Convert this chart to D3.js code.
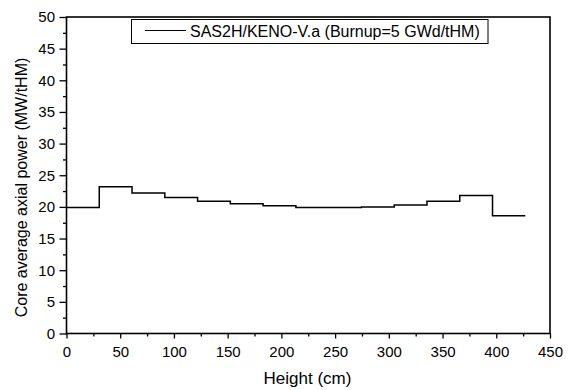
<!DOCTYPE html>
<html><head><meta charset="utf-8">
<script src="https://cdn.jsdelivr.net/npm/d3@7"></script>
<style>body{margin:0;background:#fff}text{font-family:"Liberation Sans",Arial,sans-serif;fill:#000}</style>
</head><body><svg id="c" width="568" height="390"></svg>
<script>
const binEdges = [0, 30.5, 61, 91.5, 122, 152.5, 183, 213.5, 244, 274.5, 305, 335.5, 366, 396.5, 427];
const power = [19.9, 23.2, 22.2, 21.5, 20.9, 20.5, 20.2, 19.9, 19.9, 20.0, 20.3, 20.9, 21.8, 18.6];
const xTicks = [0, 50, 100, 150, 200, 250, 300, 350, 400, 450];
const yTicks = [0, 5, 10, 15, 20, 25, 30, 35, 40, 45, 50];
const legendLabel = "SAS2H/KENO-V.a (Burnup=5 GWd/tHM)";

const svg = d3.select("#c");
const L = 66.5, R = 550, T = 17, B = 333.5;
const x = d3.scaleLinear().domain([0, 450]).range([L, R]);
const y = d3.scaleLinear().domain([0, 50]).range([B, T]);

const xMinor = d3.range(25, 450, 50);
const yMinor = d3.range(2.5, 50, 5);
const xAxis = d3.axisBottom(x).tickValues(xTicks).tickSize(5).tickPadding(8).tickFormat(d3.format("d"));
const yAxis = d3.axisLeft(y).tickValues(yTicks).tickSize(7).tickPadding(4.5).tickFormat(d3.format("d"));

svg.append("g").attr("transform", `translate(0,${B})`).call(xAxis);
svg.append("g").attr("transform", `translate(${L},0)`).call(yAxis);
svg.append("g").attr("transform", `translate(0,${B})`).call(d3.axisBottom(x).tickValues(xMinor).tickSize(3).tickFormat(""));
svg.append("g").attr("transform", `translate(${L},0)`).call(d3.axisLeft(y).tickValues(yMinor).tickSize(3.5).tickFormat(""));
svg.selectAll(".domain").remove();
svg.selectAll(".tick line").attr("stroke", "#000").attr("stroke-width", 1.3);
svg.selectAll(".tick text").style("font-size", "15px").style("font-family", '"Liberation Sans",Arial,sans-serif').attr("fill", "#000");

// frame
svg.append("rect").attr("x", L).attr("y", T).attr("width", R - L).attr("height", B - T)
  .attr("fill", "none").attr("stroke", "#000").attr("stroke-width", 1.6);

// step line
const pts = [];
power.forEach((v, i) => { pts.push([binEdges[i], v]); pts.push([binEdges[i + 1], v]); });
svg.append("path").datum(pts)
  .attr("d", d3.line().x(d => x(d[0])).y(d => y(d[1])))
  .attr("fill", "none").attr("stroke", "#000").attr("stroke-width", 1.5);

// legend
svg.append("rect").attr("x", 131.5).attr("y", 19.5).attr("width", 356.5).attr("height", 24)
  .attr("fill", "#fff").attr("stroke", "#000").attr("stroke-width", 1);
svg.append("line").attr("x1", 145).attr("x2", 186).attr("y1", 30.5).attr("y2", 30.5).attr("stroke", "#000").attr("stroke-width", 1.2);
svg.append("text").attr("x", 190).attr("y", 36.5).style("font-size", "16px").text(legendLabel);

// axis titles
svg.append("text").attr("x", 307.5).attr("y", 383.5).attr("text-anchor", "middle").style("font-size", "17px").text("Height (cm)");
svg.append("text").attr("transform", `translate(26.5,187.5) rotate(-90)`).attr("text-anchor", "middle").style("font-size", "16px").text("Core average axial power (MW/tHM)");
</script></body></html>
